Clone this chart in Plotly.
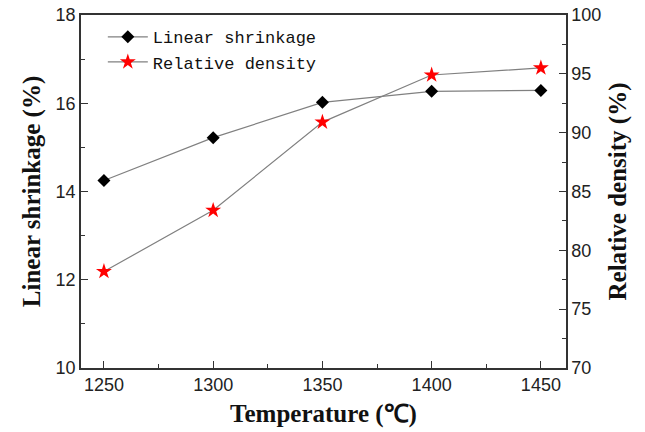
import plotly.graph_objects as go

temperature = [1250, 1300, 1350, 1400, 1450]
linear_shrinkage = [14.25, 15.22, 16.02, 16.27, 16.29]
relative_density = [78.2, 83.4, 90.9, 94.9, 95.5]

fig = go.Figure()
fig.add_trace(go.Scatter(
    x=temperature, y=linear_shrinkage, name="Linear shrinkage",
    mode="lines+markers",
    line=dict(color="#808080", width=1.2),
    marker=dict(symbol="diamond", size=10, color="black"),
))
fig.add_trace(go.Scatter(
    x=temperature, y=relative_density, name="Relative density",
    mode="lines+markers", yaxis="y2",
    line=dict(color="#808080", width=1.2),
    marker=dict(symbol="star", size=12, color="red", line=dict(width=0)),
))

axis_common = dict(
    showline=True, linecolor="#333", linewidth=1.5,
    ticks="inside", ticklen=7, tickwidth=1.2, tickcolor="#333",
    showgrid=False, zeroline=False, automargin=False,
    tickfont=dict(family="Liberation Sans, Arial", size=18, color="#222"),
)
title_font = dict(family="Liberation Serif, Times New Roman", size=25, color="#111", weight="bold")

fig.update_layout(
    width=645, height=432,
    margin=dict(l=81, r=79, t=15, b=64),
    paper_bgcolor="white", plot_bgcolor="white",
    showlegend=True,
    legend=dict(
        x=0.045, y=0.988, xanchor="left", yanchor="top",
        bgcolor="rgba(0,0,0,0)", borderwidth=0,
        font=dict(family="Liberation Mono, Courier New", size=17, color="#111"),
        tracegroupgap=0, itemwidth=40,
    ),
    xaxis=dict(
        **axis_common,
        range=[1239.5, 1461.5], tickvals=[1250, 1300, 1350, 1400, 1450],
        mirror=True,
        minor=dict(ticks="inside", ticklen=4, tickwidth=1.2, tickcolor="#333", dtick=25, tick0=1250),
        title=dict(text="Temperature (℃)", standoff=10, font=title_font),
    ),
    yaxis=dict(
        **axis_common,
        range=[10, 18], dtick=2, tick0=10,
        minor=dict(ticks="inside", ticklen=4, tickwidth=1.2, tickcolor="#333", dtick=1),
        title=dict(text="Linear shrinkage (%)", standoff=8, font=title_font),
    ),
    yaxis2=dict(
        **axis_common,
        overlaying="y", side="right",
        range=[70, 100], dtick=5, tick0=70,
        minor=dict(ticks="inside", ticklen=4, tickwidth=1.2, tickcolor="#333", dtick=2.5),
        title=dict(text="Relative density (%)", standoff=8, font=title_font),
    ),
)

fig.write_html("out.html")
